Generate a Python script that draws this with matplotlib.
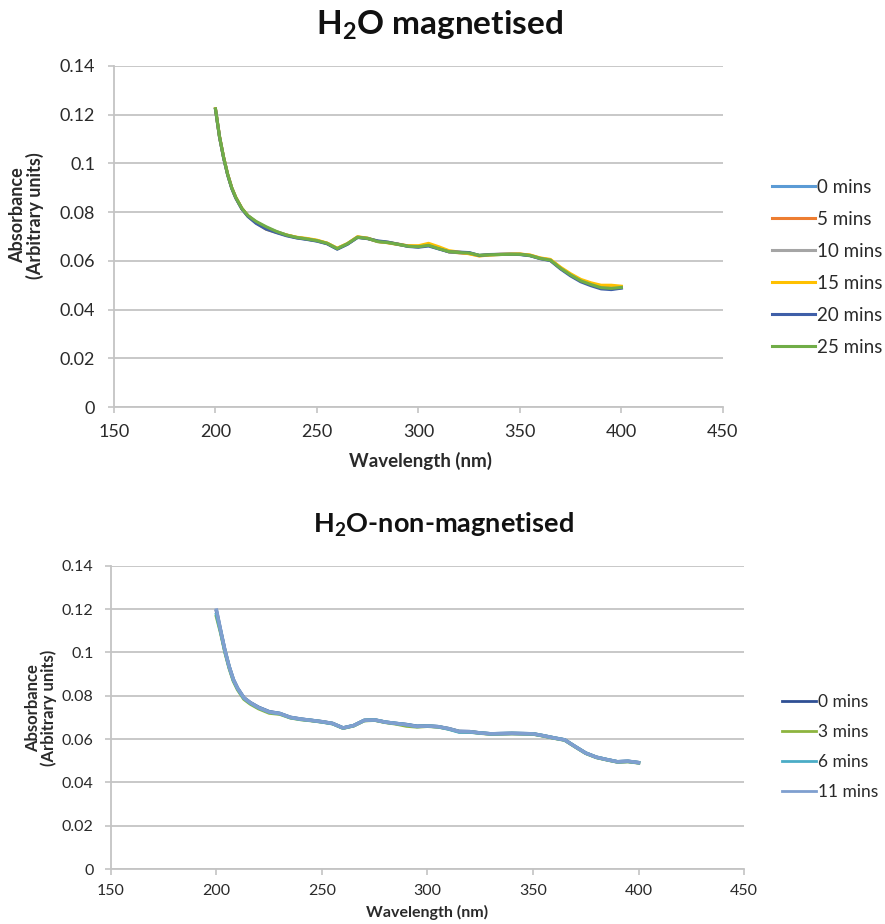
import matplotlib
matplotlib.use("Agg")
import matplotlib.pyplot as plt

plt.rcParams['font.family'] = ['Lato', 'DejaVu Sans']
plt.rcParams['mathtext.fontset'] = 'custom'
plt.rcParams['mathtext.bf'] = 'Lato:bold'
plt.rcParams['mathtext.rm'] = 'Lato:bold'
plt.rcParams['mathtext.default'] = 'bf'

wavelength = [200, 202, 204, 206, 208, 210, 213, 216, 220, 225, 230, 235, 240, 245,
              250, 255, 260, 265, 270, 275, 280, 285, 290, 295, 300, 305, 310, 315,
              320, 325, 330, 335, 340, 345, 350, 355, 360, 365, 370, 375, 380, 385,
              390, 395, 400]

# --- H2O magnetised ---
mag_labels = ["0 mins", "5 mins", "10 mins", "15 mins", "20 mins", "25 mins"]
mag_colors = ["#5B9BD5", "#ED7D31", "#A5A5A5", "#FFC000", "#3F5FA8", "#70AD47"]
mag_0 = [0.1222, 0.1108, 0.1024, 0.0954, 0.0899, 0.0859, 0.0814, 0.0784, 0.0758, 0.0735,
         0.0718, 0.0705, 0.0695, 0.0689, 0.0682, 0.0671, 0.0649, 0.0669, 0.0697, 0.0692,
         0.0680, 0.0675, 0.0668, 0.0660, 0.0658, 0.0663, 0.0650, 0.0638, 0.0634, 0.0632,
         0.0622, 0.0625, 0.0626, 0.0627, 0.0627, 0.0622, 0.0610, 0.0603, 0.0570, 0.0542,
         0.0518, 0.0502, 0.0489, 0.0485, 0.0490]
mag_5 = [0.1224, 0.1110, 0.1025, 0.0955, 0.0900, 0.0860, 0.0815, 0.0785, 0.0760, 0.0736,
         0.0719, 0.0706, 0.0696, 0.0690, 0.0683, 0.0672, 0.0650, 0.0670, 0.0698, 0.0692,
         0.0679, 0.0676, 0.0669, 0.0661, 0.0660, 0.0668, 0.0652, 0.0637, 0.0633, 0.0630,
         0.0621, 0.0625, 0.0627, 0.0627, 0.0628, 0.0623, 0.0611, 0.0604, 0.0571, 0.0543,
         0.0520, 0.0505, 0.0494, 0.0489, 0.0491]
mag_10 = [0.1223, 0.1109, 0.1024, 0.0955, 0.0900, 0.0859, 0.0815, 0.0785, 0.0759, 0.0737,
          0.0720, 0.0706, 0.0696, 0.0690, 0.0683, 0.0672, 0.0651, 0.0670, 0.0697, 0.0693,
          0.0680, 0.0675, 0.0668, 0.0660, 0.0658, 0.0665, 0.0651, 0.0638, 0.0635, 0.0633,
          0.0622, 0.0625, 0.0626, 0.0627, 0.0627, 0.0622, 0.0610, 0.0603, 0.0570, 0.0542,
          0.0518, 0.0503, 0.0490, 0.0486, 0.0490]
mag_15 = [0.1224, 0.1110, 0.1026, 0.0956, 0.0901, 0.0861, 0.0816, 0.0784, 0.0756, 0.0730,
          0.0717, 0.0706, 0.0697, 0.0692, 0.0685, 0.0673, 0.0652, 0.0671, 0.0699, 0.0693,
          0.0680, 0.0674, 0.0667, 0.0662, 0.0662, 0.0672, 0.0658, 0.0642, 0.0636, 0.0629,
          0.0620, 0.0624, 0.0626, 0.0628, 0.0628, 0.0624, 0.0612, 0.0606, 0.0574, 0.0547,
          0.0524, 0.0510, 0.0500, 0.0500, 0.0496]
mag_20 = [0.1222, 0.1108, 0.1023, 0.0953, 0.0898, 0.0858, 0.0813, 0.0782, 0.0754, 0.0730,
          0.0716, 0.0703, 0.0694, 0.0688, 0.0681, 0.0670, 0.0648, 0.0668, 0.0696, 0.0691,
          0.0682, 0.0677, 0.0668, 0.0659, 0.0656, 0.0661, 0.0649, 0.0637, 0.0636, 0.0634,
          0.0622, 0.0626, 0.0627, 0.0627, 0.0626, 0.0621, 0.0609, 0.0601, 0.0567, 0.0538,
          0.0514, 0.0498, 0.0485, 0.0482, 0.0488]
mag_25 = [0.1224, 0.1110, 0.1025, 0.0955, 0.0900, 0.0860, 0.0815, 0.0786, 0.0762, 0.0740,
          0.0721, 0.0706, 0.0696, 0.0690, 0.0683, 0.0672, 0.0650, 0.0670, 0.0697, 0.0692,
          0.0679, 0.0675, 0.0668, 0.0660, 0.0658, 0.0664, 0.0650, 0.0638, 0.0634, 0.0632,
          0.0623, 0.0625, 0.0626, 0.0627, 0.0627, 0.0622, 0.0610, 0.0603, 0.0570, 0.0542,
          0.0518, 0.0503, 0.0490, 0.0487, 0.0491]
mag_series = [mag_0, mag_5, mag_10, mag_15, mag_20, mag_25]

# --- H2O non-magnetised ---
non_labels = ["0 mins", "3 mins", "6 mins", "11 mins"]
non_colors = ["#2F4F94", "#8DB43F", "#4BACC6", "#7F9FCF"]
non_0 = [0.1190, 0.1098, 0.1008, 0.0934, 0.0874, 0.0834, 0.0790, 0.0768, 0.0746, 0.0726,
         0.0718, 0.0700, 0.0692, 0.0686, 0.0680, 0.0672, 0.0651, 0.0662, 0.0686, 0.0688,
         0.0678, 0.0672, 0.0667, 0.0659, 0.0660, 0.0657, 0.0648, 0.0635, 0.0634, 0.0628,
         0.0624, 0.0625, 0.0626, 0.0625, 0.0624, 0.0615, 0.0605, 0.0596, 0.0565, 0.0535,
         0.0516, 0.0505, 0.0495, 0.0497, 0.0491]
non_3 = [0.1165, 0.1090, 0.1002, 0.0928, 0.0868, 0.0828, 0.0784, 0.0762, 0.0740, 0.0720,
         0.0715, 0.0698, 0.0690, 0.0685, 0.0679, 0.0671, 0.0650, 0.0661, 0.0685, 0.0687,
         0.0677, 0.0670, 0.0660, 0.0656, 0.0659, 0.0656, 0.0647, 0.0634, 0.0633, 0.0627,
         0.0623, 0.0624, 0.0625, 0.0624, 0.0623, 0.0614, 0.0604, 0.0595, 0.0564, 0.0534,
         0.0515, 0.0504, 0.0494, 0.0496, 0.0490]
non_6 = [0.1175, 0.1095, 0.1006, 0.0932, 0.0872, 0.0832, 0.0788, 0.0766, 0.0744, 0.0724,
         0.0717, 0.0699, 0.0691, 0.0686, 0.0679, 0.0671, 0.0651, 0.0662, 0.0686, 0.0688,
         0.0678, 0.0672, 0.0666, 0.0658, 0.0660, 0.0657, 0.0646, 0.0632, 0.0632, 0.0628,
         0.0624, 0.0625, 0.0626, 0.0625, 0.0624, 0.0615, 0.0605, 0.0596, 0.0565, 0.0535,
         0.0516, 0.0505, 0.0495, 0.0497, 0.0491]
non_11 = [0.1195, 0.1100, 0.1010, 0.0935, 0.0875, 0.0835, 0.0790, 0.0768, 0.0745, 0.0725,
          0.0718, 0.0700, 0.0692, 0.0686, 0.0680, 0.0672, 0.0651, 0.0662, 0.0686, 0.0688,
          0.0678, 0.0672, 0.0666, 0.0658, 0.0660, 0.0657, 0.0648, 0.0635, 0.0634, 0.0628,
          0.0624, 0.0625, 0.0626, 0.0625, 0.0624, 0.0615, 0.0605, 0.0596, 0.0565, 0.0535,
          0.0516, 0.0505, 0.0495, 0.0498, 0.0491]
non_series = [non_0, non_3, non_6, non_11]

x_ticks = [150, 200, 250, 300, 350, 400, 450]
y_ticks = [0, 0.02, 0.04, 0.06, 0.08, 0.1, 0.12, 0.14]
y_ticklabels = ["0", "0.02", "0.04", "0.06", "0.08", "0.1", "0.12", "0.14"]

fig = plt.figure(figsize=(8.85, 9.24), dpi=100)

GRID = "#C4C4C4"
TXT = "#2A2A2A"


def style(ax, fs, ypad, xpad):
    ax.set_xlim(150, 450)
    ax.set_ylim(0, 0.14)
    ax.set_xticks(x_ticks)
    ax.set_xticklabels([str(t) for t in x_ticks], fontsize=fs, color=TXT)
    ax.set_yticks(y_ticks)
    ax.set_yticklabels(y_ticklabels, fontsize=fs, color=TXT)
    ax.yaxis.grid(True, color=GRID, linewidth=1.3)
    ax.set_axisbelow(True)
    for s in ["top", "right"]:
        ax.spines[s].set_visible(False)
    for s in ["left", "bottom"]:
        ax.spines[s].set_color(GRID)
        ax.spines[s].set_linewidth(1.3)
    ax.tick_params(axis="both", length=4, color=GRID, width=1.2)
    ax.tick_params(axis="y", pad=ypad)
    ax.tick_params(axis="x", pad=xpad)


# Top chart
ax1 = fig.add_axes([0.1288, 0.5595, 0.688, 0.3691])
for vals, lab, col in zip(mag_series, mag_labels, mag_colors):
    ax1.plot(wavelength, vals, color=col, linewidth=2.2, label=lab)
style(ax1, 13, 9.5, 8)
fig.text(0.497, 0.9621, r"H$_2$O magnetised", fontsize=24, fontweight="bold",
         color="#111111", ha="center", va="baseline")
fig.text(0.4757, 0.5011, "Wavelength (nm)", fontsize=13.5, fontweight="bold",
         color=TXT, ha="center", va="center")
fig.text(0.030, 0.767, "Absorbance\n(Arbitrary units)", fontsize=13, fontweight="bold",
         color=TXT, ha="center", va="center", rotation=90, linespacing=0.95)
ax1.legend(loc="center left", bbox_to_anchor=(1.08, 0.409), frameon=False, fontsize=13.5,
           handlelength=2.3, handletextpad=0.12, labelspacing=0.8, labelcolor=TXT,
           borderaxespad=0, borderpad=0)

# Bottom chart
ax2 = fig.add_axes([0.1254, 0.0595, 0.7153, 0.3283])
for vals, lab, col in zip(non_series, non_labels, non_colors):
    ax2.plot(wavelength, vals, color=col, linewidth=2.5, label=lab)
style(ax2, 11.5, 8.5, 7)
fig.text(0.501, 0.4232, r"H$_2$O-non-magnetised", fontsize=19.5, fontweight="bold",
         color="#111111", ha="center", va="baseline")
fig.text(0.483, 0.013, "Wavelength (nm)", fontsize=11.5, fontweight="bold",
         color=TXT, ha="center", va="center")
fig.text(0.046, 0.234, "Absorbance\n(Arbitrary units)", fontsize=12, fontweight="bold",
         color=TXT, ha="center", va="center", rotation=90, linespacing=0.95)
leg2 = ax2.legend(loc="center left", bbox_to_anchor=(1.06, 0.402), frameon=False, fontsize=12.5,
                  handlelength=1.95, handletextpad=0.12, labelspacing=0.82, labelcolor=TXT,
                  borderaxespad=0, borderpad=0)
for h in leg2.get_lines():
    h.set_linewidth(2.0)

fig.savefig("out.png", dpi=100, facecolor="white")
